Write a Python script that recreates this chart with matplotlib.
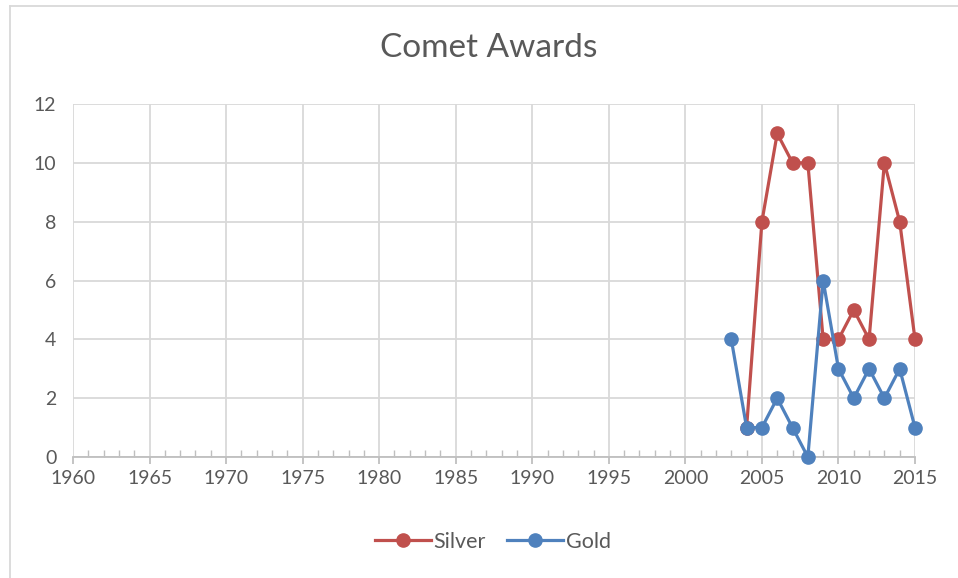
import matplotlib
matplotlib.use("Agg")
import matplotlib.pyplot as plt
from matplotlib.lines import Line2D
from matplotlib.ticker import MultipleLocator

plt.rcParams['font.family'] = ['Lato', 'DejaVu Sans']

silver_years = [2004, 2005, 2006, 2007, 2008, 2009, 2010, 2011, 2012, 2013, 2014, 2015]
silver_vals = [1, 8, 11, 10, 10, 4, 4, 5, 4, 10, 8, 4]
gold_years = [2003, 2004, 2005, 2006, 2007, 2008, 2009, 2010, 2011, 2012, 2013, 2014, 2015]
gold_vals = [4, 1, 1, 2, 1, 0, 6, 3, 2, 3, 2, 3, 1]
x_ticks = [1960, 1965, 1970, 1975, 1980, 1985, 1990, 1995, 2000, 2005, 2010, 2015]
y_ticks = [0, 2, 4, 6, 8, 10, 12]

W, H = 958, 578
fig = plt.figure(figsize=(W / 100, H / 100), dpi=100)
ax = fig.add_axes([73 / W, 1 - 457 / H, (915 - 73) / W, (457 - 104) / H])

red = '#C0504D'
blue = '#4F81BD'
grid = '#D9D9D9'
txt = '#595959'

ax.plot(silver_years, silver_vals, color=red, lw=2.3, marker='o', ms=9.5, label='Silver',
        zorder=3, clip_on=False)
ax.plot(gold_years, gold_vals, color=blue, lw=2.3, marker='o', ms=9.5, label='Gold',
        zorder=4, clip_on=False)

ax.set_xlim(1960, 2015)
ax.set_ylim(0, 12)
ax.set_xticks(x_ticks)
ax.set_yticks(y_ticks)
ax.xaxis.set_minor_locator(MultipleLocator(1))
ax.grid(True, which='major', color=grid, lw=1.3, zorder=0)
for s in ['top', 'right', 'left']:
    ax.spines[s].set_visible(False)
ax.spines['bottom'].set_color('#BFBFBF')
ax.spines['bottom'].set_linewidth(1.3)
ax.tick_params(axis='x', which='major', direction='out', length=5, color='#BFBFBF', width=1.3,
               labelsize=14, labelcolor=txt, pad=4)
ax.tick_params(axis='x', which='minor', direction='in', length=5, color='#BFBFBF', width=1.0)
ax.tick_params(axis='y', length=0, labelsize=14, labelcolor=txt, pad=12)
ax.set_axisbelow(True)

fig.text(489 / W, 1 - 48 / H, 'Comet Awards', ha='center', va='center', fontsize=24, color=txt)

leg = fig.legend(handles=ax.get_lines(), labels=['Silver', 'Gold'], loc='center',
                 bbox_to_anchor=(493 / W, 1 - 542 / H), ncol=2, frameon=False,
                 fontsize=15.5, handlelength=2.6, columnspacing=1.0, handletextpad=0.1)
for t in leg.get_texts():
    t.set_color(txt)

fig.add_artist(Line2D([9.5 / W, 1], [1 - 5.5 / H, 1 - 5.5 / H], color='#D9D9D9', lw=1.3))
fig.add_artist(Line2D([9.5 / W, 9.5 / W], [0, 1 - 5.5 / H], color='#D9D9D9', lw=1.3))

fig.savefig('out.png', dpi=100)
